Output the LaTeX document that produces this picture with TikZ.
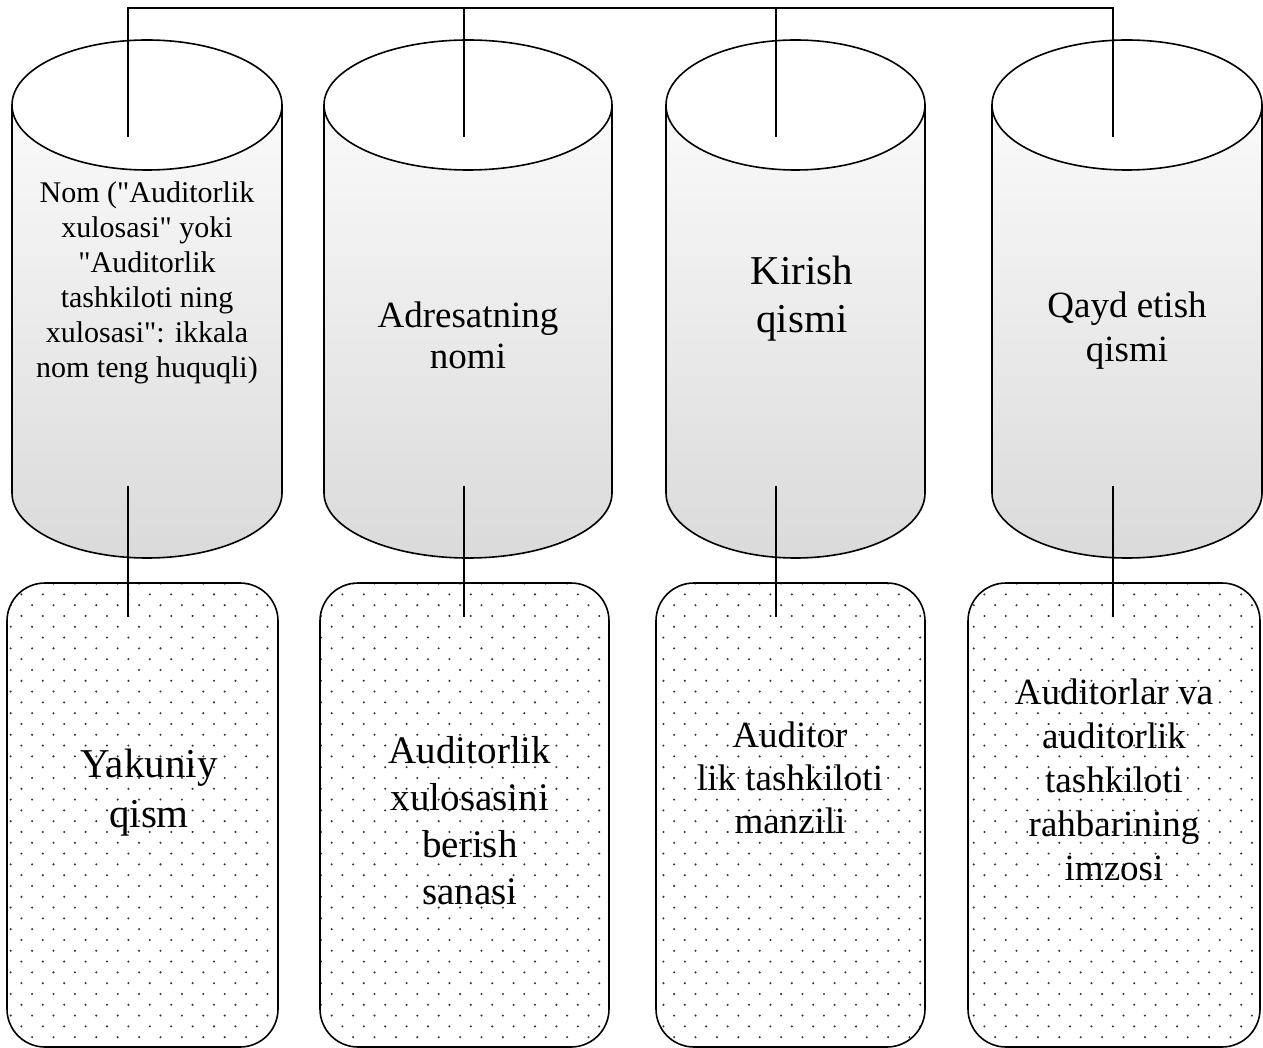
\documentclass[tikz,border=0pt]{standalone}
\usepackage{fontspec}
\setmainfont{Liberation Serif}[Ligatures=TeXOff]
\usepackage{xcolor}
\usetikzlibrary{calc,patterns.meta}
\definecolor{ink}{HTML}{000000}
\definecolor{pale}{HTML}{FAFAFA}
\definecolor{shadow}{HTML}{DADADA}
\definecolor{speck}{HTML}{333333}

\tikzdeclarepattern{
  name=specks,
  bottom left={(-1.2pt,-1.2pt)},
  top right={(20.2pt,20.4pt)},
  tile size={(21.4pt,21.6pt)},
  code={
    \fill (0pt,0pt) circle (1.15pt);
    \fill (10.7pt,10.8pt) circle (1.15pt);
  }
}

\begin{document}
\begin{tikzpicture}[x=1pt, y=-1pt, line width=1.6pt,
  cylbody/.style={draw=ink, top color=pale, bottom color=shadow},
  dotbox/.style={draw=ink, rounded corners=38pt, pattern=specks, pattern color=speck},
  link/.style={draw=ink, line width=1.6pt}]
  \useasboundingbox (0,0) rectangle (1263,1048);
  \def\ry{65}
  \def\ch{388}
  \def\bh{464}
  \coordinate (cylA) at (147,105);
  \coordinate (cylB) at (468,105);
  \coordinate (cylC) at (795.5,105);
  \coordinate (cylD) at (1127,105);
  \coordinate (boxA) at (7,583);
  \coordinate (boxB) at (320,583);
  \coordinate (boxC) at (656,583);
  \coordinate (boxD) at (968,583);

  % cylinders
  \draw[cylbody] ($(cylA)+(-135,0)$) -- ++(0,\ch) arc[start angle=180, end angle=360, x radius=135pt, y radius=\ry pt] -- ++(0,-\ch) -- cycle;
  \draw[fill=white] (cylA) ellipse [x radius=135pt, y radius=\ry pt];
  \draw[cylbody] ($(cylB)+(-144,0)$) -- ++(0,\ch) arc[start angle=180, end angle=360, x radius=144pt, y radius=\ry pt] -- ++(0,-\ch) -- cycle;
  \draw[fill=white] (cylB) ellipse [x radius=144pt, y radius=\ry pt];
  \draw[cylbody] ($(cylC)+(-129.5,0)$) -- ++(0,\ch) arc[start angle=180, end angle=360, x radius=129.5pt, y radius=\ry pt] -- ++(0,-\ch) -- cycle;
  \draw[fill=white] (cylC) ellipse [x radius=129.5pt, y radius=\ry pt];
  \draw[cylbody] ($(cylD)+(-135,0)$) -- ++(0,\ch) arc[start angle=180, end angle=360, x radius=135pt, y radius=\ry pt] -- ++(0,-\ch) -- cycle;
  \draw[fill=white] (cylD) ellipse [x radius=135pt, y radius=\ry pt];

  % dotted boxes
  \draw[dotbox] (boxA) rectangle ++(271,\bh);
  \draw[dotbox] (boxB) rectangle ++(289,\bh);
  \draw[dotbox] (boxC) rectangle ++(269,\bh);
  \draw[dotbox] (boxD) rectangle ++(292,\bh);

  % connector ends
  \coordinate (topA) at (128,8);
  \coordinate (topB) at (464,8);
  \coordinate (topC) at (776,8);
  \coordinate (topD) at (1113,8);
  \coordinate (inA) at (128,137);
  \coordinate (inB) at (464,137);
  \coordinate (inC) at (776,137);
  \coordinate (inD) at (1113,137);
  \coordinate (outA) at (128,486);
  \coordinate (outB) at (464,486);
  \coordinate (outC) at (776,486);
  \coordinate (outD) at (1113,486);
  \coordinate (dnA) at (128,617);
  \coordinate (dnB) at (464,617);
  \coordinate (dnC) at (776,617);
  \coordinate (dnD) at (1113,617);

  \draw[link] (inA) -- (topA) -- (topD) -- (inD);
  \draw[link] (topB) -- (inB);
  \draw[link] (topC) -- (inC);
  \draw[link] (outA) -- (dnA);
  \draw[link] (outB) -- (dnB);
  \draw[link] (outC) -- (dnC);
  \draw[link] (outD) -- (dnD);

  % texts
  \node[align=center, font=\fontsize{30}{35}\selectfont] (nom) at (147,283) {Nom ("Auditorlik\\xulosasi" yoki\\"Auditorlik\\tashkiloti ning\\xulosasi": ikkala\\nom teng huquqli)};
  \node[align=center, font=\fontsize{37}{41}\selectfont] (adresat) at (468,335) {Adresatning\\nomi};
  \node[align=center, font=\fontsize{41}{48}\selectfont] (kirish) at (802,299) {Kirish\\qismi};
  \node[align=center, font=\fontsize{37}{44}\selectfont] (qayd) at (1127,331) {Qayd etish\\qismi};
  \node[align=center, font=\fontsize{41}{50}\selectfont] (yakun) at (149,793) {Yakuniy\\qism};
  \node[align=center, font=\fontsize{39}{47}\selectfont] (sana) at (470,821) {Auditorlik\\xulosasini\\berish\\sanasi};
  \node[align=center, font=\fontsize{37}{43}\selectfont] (manzil) at (790,778) {Auditor\\lik tashkiloti\\manzili};
  \node[align=center, font=\fontsize{37}{44}\selectfont] (imzo) at (1114,780) {Auditorlar va\\auditorlik\\tashkiloti\\rahbarining\\imzosi};
\end{tikzpicture}
\end{document}
